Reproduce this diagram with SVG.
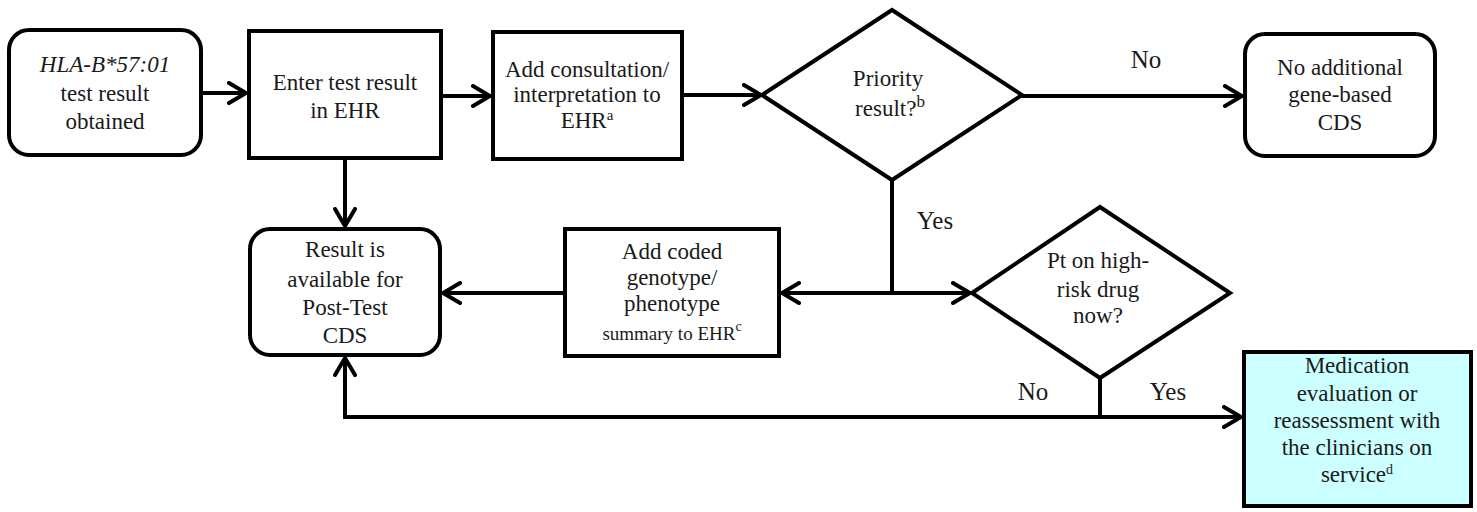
<svg xmlns="http://www.w3.org/2000/svg" width="1477" height="512" viewBox="0 0 1477 512">
<style>
.box{fill:#ffffff;stroke:#000;stroke-width:4}
.cyan{fill:#ccffff;stroke:#000;stroke-width:4}
.edge{fill:none;stroke:#000;stroke-width:4}
text{font-family:"Liberation Serif",Tinos,"Times New Roman",Times,"Noto Serif","DejaVu Serif",FreeSerif,serif;font-size:23px;fill:#1a1a1a;text-anchor:middle}
.lbl{font-size:25px}
.sm{font-size:19px}
</style>
<defs>
<marker id="arr" markerUnits="userSpaceOnUse" viewBox="0 0 22 24" refX="19" refY="12" markerWidth="22" markerHeight="24" orient="auto">
<path d="M2,2 L19,12 L2,22" fill="none" stroke="#000" stroke-width="4" stroke-linecap="round" stroke-linejoin="miter"/>
</marker>
</defs>
<rect width="1477" height="512" fill="#fff"/>
<g id="connectors">
<path class="edge" d="M203,93 L246,93" marker-end="url(#arr)"/>
<path class="edge" d="M443,96 L490,96" marker-end="url(#arr)"/>
<path class="edge" d="M684,95 L761,95" marker-end="url(#arr)"/>
<path class="edge" d="M1022,96 L1242,96" marker-end="url(#arr)"/>
<path class="edge" d="M345,160 L345,226" marker-end="url(#arr)"/>
<path class="edge" d="M563,293 L443,293" marker-end="url(#arr)"/>
<path class="edge" d="M892,180 L892,293"/>
<path class="edge" d="M894,293 L782,293" marker-end="url(#arr)"/>
<path class="edge" d="M890,293 L970,293" marker-end="url(#arr)"/>
<path class="edge" d="M1100,378 L1100,417"/>
<path class="edge" d="M1102,417 L345,417 L345,358" marker-end="url(#arr)"/>
<path class="edge" d="M1098,417 L1241,417" marker-end="url(#arr)"/>
<text class="lbl" x="1146" y="68">No</text>
<text class="lbl" x="935" y="229">Yes</text>
<text class="lbl" x="1033" y="400">No</text>
<text class="lbl" x="1168" y="400">Yes</text>
</g>
<g id="n1">
<rect class="box" x="9" y="30" width="192" height="125" rx="20"/>
<text x="105" y="72" font-style="italic">HLA-B*57:01</text>
<text x="105" y="101">test result</text>
<text x="105" y="129">obtained</text>
</g>
<g id="n2">
<rect class="box" x="249" y="31" width="192" height="127"/>
<text x="345" y="90">Enter test result</text>
<text x="345" y="118">in EHR</text>
</g>
<g id="n3">
<rect class="box" x="493" y="32" width="189" height="127"/>
<text x="587" y="77">Add consultation/</text>
<text x="587" y="102">interpretation  to</text>
<text x="587" y="128">EHR<tspan font-size="15" dy="-8">a</tspan></text>
</g>
<g id="d1">
<polygon class="box" points="762,95 892,10 1022,95 892,180"/>
<text x="888" y="86">Priority</text>
<text x="890" y="116">result?<tspan font-size="17" dy="-9">b</tspan></text>
</g>
<g id="n4">
<rect class="box" x="1245" y="34" width="190" height="122" rx="20"/>
<text x="1340" y="75">No additional</text>
<text x="1340" y="102">gene-based</text>
<text x="1340" y="130">CDS</text>
</g>
<g id="n5">
<rect class="box" x="250" y="229" width="190" height="126" rx="20"/>
<text x="345" y="257">Result is</text>
<text x="345" y="287">available  for</text>
<text x="345" y="315">Post-Test</text>
<text x="345" y="343">CDS</text>
</g>
<g id="n6">
<rect class="box" x="565" y="229" width="214" height="127"/>
<text x="672" y="259">Add  coded</text>
<text x="672" y="285">genotype/</text>
<text x="672" y="311">phenotype</text>
<text class="sm" x="672" y="340">summary to EHR<tspan font-size="14" dy="-9">c</tspan></text>
</g>
<g id="d2">
<polygon class="box" points="972,293 1100,207 1230,293 1100,378"/>
<text x="1098" y="268" font-size="21">Pt on high-</text>
<text x="1098" y="297" font-size="21">risk  drug</text>
<text x="1098" y="323" font-size="21">now?</text>
</g>
<g id="n7">
<rect class="cyan" x="1244" y="352" width="227" height="154"/>
<text x="1357" y="373" font-size="21">Medication</text>
<text x="1357" y="401" font-size="21">evaluation  or</text>
<text x="1357" y="428" font-size="21">reassessment with</text>
<text x="1357" y="455" font-size="21">the clinicians  on</text>
<text x="1357" y="482" font-size="21">service<tspan font-size="14" dy="-8">d</tspan></text>
</g>
</svg>
